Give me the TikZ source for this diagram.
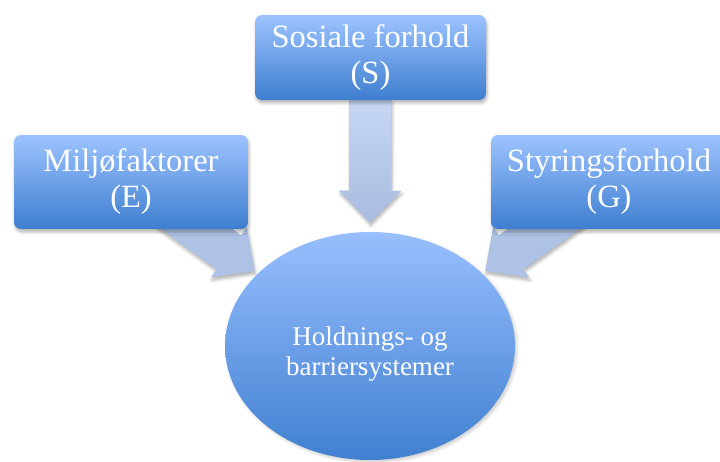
\documentclass[tikz,border=0pt]{standalone}
\usepackage{fontspec}
\setmainfont{Liberation Serif}
\usetikzlibrary{calc,shapes.geometric,backgrounds,shadows.blur}
\definecolor{bokslys}{HTML}{9DC3FF}
\definecolor{boksmork}{HTML}{3E7ECF}
\definecolor{ellipselys}{HTML}{98BFFF}
\definecolor{ellipsemork}{HTML}{4080D0}
\definecolor{pillys}{HTML}{C6D7F4}
\definecolor{pilmork}{HTML}{A8BCE0}
\definecolor{pilflat}{HTML}{AEC2E5}

\tikzset{
  skygge/.style={blur shadow={shadow xshift=1pt,shadow yshift=-3pt,shadow blur radius=3pt,shadow opacity=30}},
  boks/.style={rounded corners=7pt,top color=bokslys,bottom color=boksmork,text=white,
    align=center,inner sep=0pt,font=\fontsize{32.5}{36}\selectfont,skygge},
  pil/.style={fill=pilflat,skygge},
}

% blokkpil: #2 = fra, #3 = mot, #4 = luft foran spissen
\newcommand{\blokkpil}[4][]{%
  \path ($(#3)!#4!(#2)$) coordinate (spiss)
        ($(spiss)!32pt!(#2)$) coordinate (hals);
  \fill[pil,#1] ($(#2)!21pt!90:(spiss)$) -- ($(hals)!21pt!90:(spiss)$)
    -- ($(hals)!31pt!90:(spiss)$) -- (spiss) -- ($(hals)!31pt!-90:(spiss)$)
    -- ($(hals)!21pt!-90:(spiss)$) -- ($(#2)!21pt!-90:(spiss)$) -- cycle;
}

\begin{document}
\begin{tikzpicture}[x=1pt,y=-1pt]
\useasboundingbox (0,0) rectangle (720,462);
\clip (0,0) rectangle (720,462);

\node[boks,minimum width=231pt,minimum height=85pt] (sosial) at (370.5,57.5) {Sosiale forhold\\(S)};
\node[boks,minimum width=234pt,minimum height=94pt] (miljo) at (131,182) {Miljøfaktorer\\(E)};
\node[boks,minimum width=236pt,minimum height=94pt] (styring) at (609,182) {Styringsforhold\\(G)};

\node[ellipse,minimum width=290pt,minimum height=228pt,inner sep=0pt,
  top color=ellipselys,bottom color=ellipsemork,text=white,align=center,
  font=\fontsize{27}{30}\selectfont,
  blur shadow={shadow xshift=2pt,shadow yshift=-2pt,shadow blur radius=3pt,shadow opacity=20}]
  (hold) at (370,346) {\rule{0pt}{34pt}Holdnings- og\\barriersystemer};

% pilene ligger bak boksene
\begin{pgfonlayer}{background}
  \blokkpil[top color=pillys,bottom color=pilmork]{sosial.south}{hold.north}{9pt}
  \blokkpil{miljo.center}{hold.147}{4pt}
  \blokkpil{styring.center}{hold.33}{4pt}
\end{pgfonlayer}
\end{tikzpicture}
\end{document}
